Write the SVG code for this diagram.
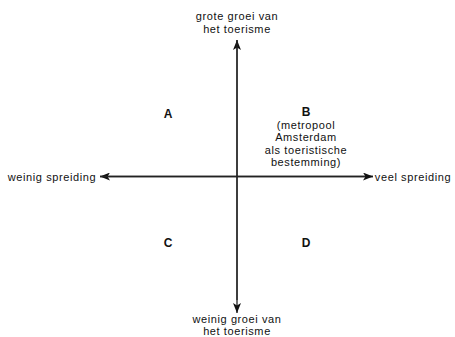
<svg xmlns="http://www.w3.org/2000/svg" width="455" height="337" viewBox="0 0 455 337">
<style>
text{font-family:"Liberation Sans",Arial,sans-serif;font-size:11px;letter-spacing:0.6px;fill:#111;text-anchor:middle}
.b{font-weight:bold;font-size:12px;letter-spacing:0}
.l{stroke:#222;stroke-width:1.3;fill:none}
</style>
<defs>
<marker id="ah" viewBox="0 0 10 8" refX="10" refY="4" markerWidth="10" markerHeight="8" markerUnits="userSpaceOnUse" orient="auto">
<path d="M0,0 L10,4 L0,8 L2.5,4 Z" fill="#111"/>
</marker>
</defs>
<g id="connectors">
<line class="l" x1="237" y1="300" x2="237" y2="40" marker-end="url(#ah)"/>
<line class="l" x1="237" y1="40" x2="237" y2="313" marker-end="url(#ah)"/>
<line class="l" x1="373" y1="176.5" x2="100" y2="176.5" marker-end="url(#ah)"/>
<line class="l" x1="100" y1="176.5" x2="373" y2="176.5" marker-end="url(#ah)"/>
</g>
<g id="top"><text x="237" y="20">grote groei van</text><text x="237" y="32.5">het toerisme</text></g>
<g id="bottom"><text x="237" y="322.5">weinig groei van</text><text x="237" y="335">het toerisme</text></g>
<g id="left"><text x="52" y="180.5">weinig spreiding</text></g>
<g id="right"><text x="413" y="180.5">veel spreiding</text></g>
<g id="A"><text class="b" x="168" y="118">A</text></g>
<g id="B"><text class="b" x="306" y="116">B</text>
<text x="306" y="128.5">(metropool</text><text x="306" y="141">Amsterdam</text><text x="306" y="153.5">als toeristische</text><text x="306" y="166">bestemming)</text></g>
<g id="C"><text class="b" x="168" y="247">C</text></g>
<g id="D"><text class="b" x="306" y="247">D</text></g>
</svg>
